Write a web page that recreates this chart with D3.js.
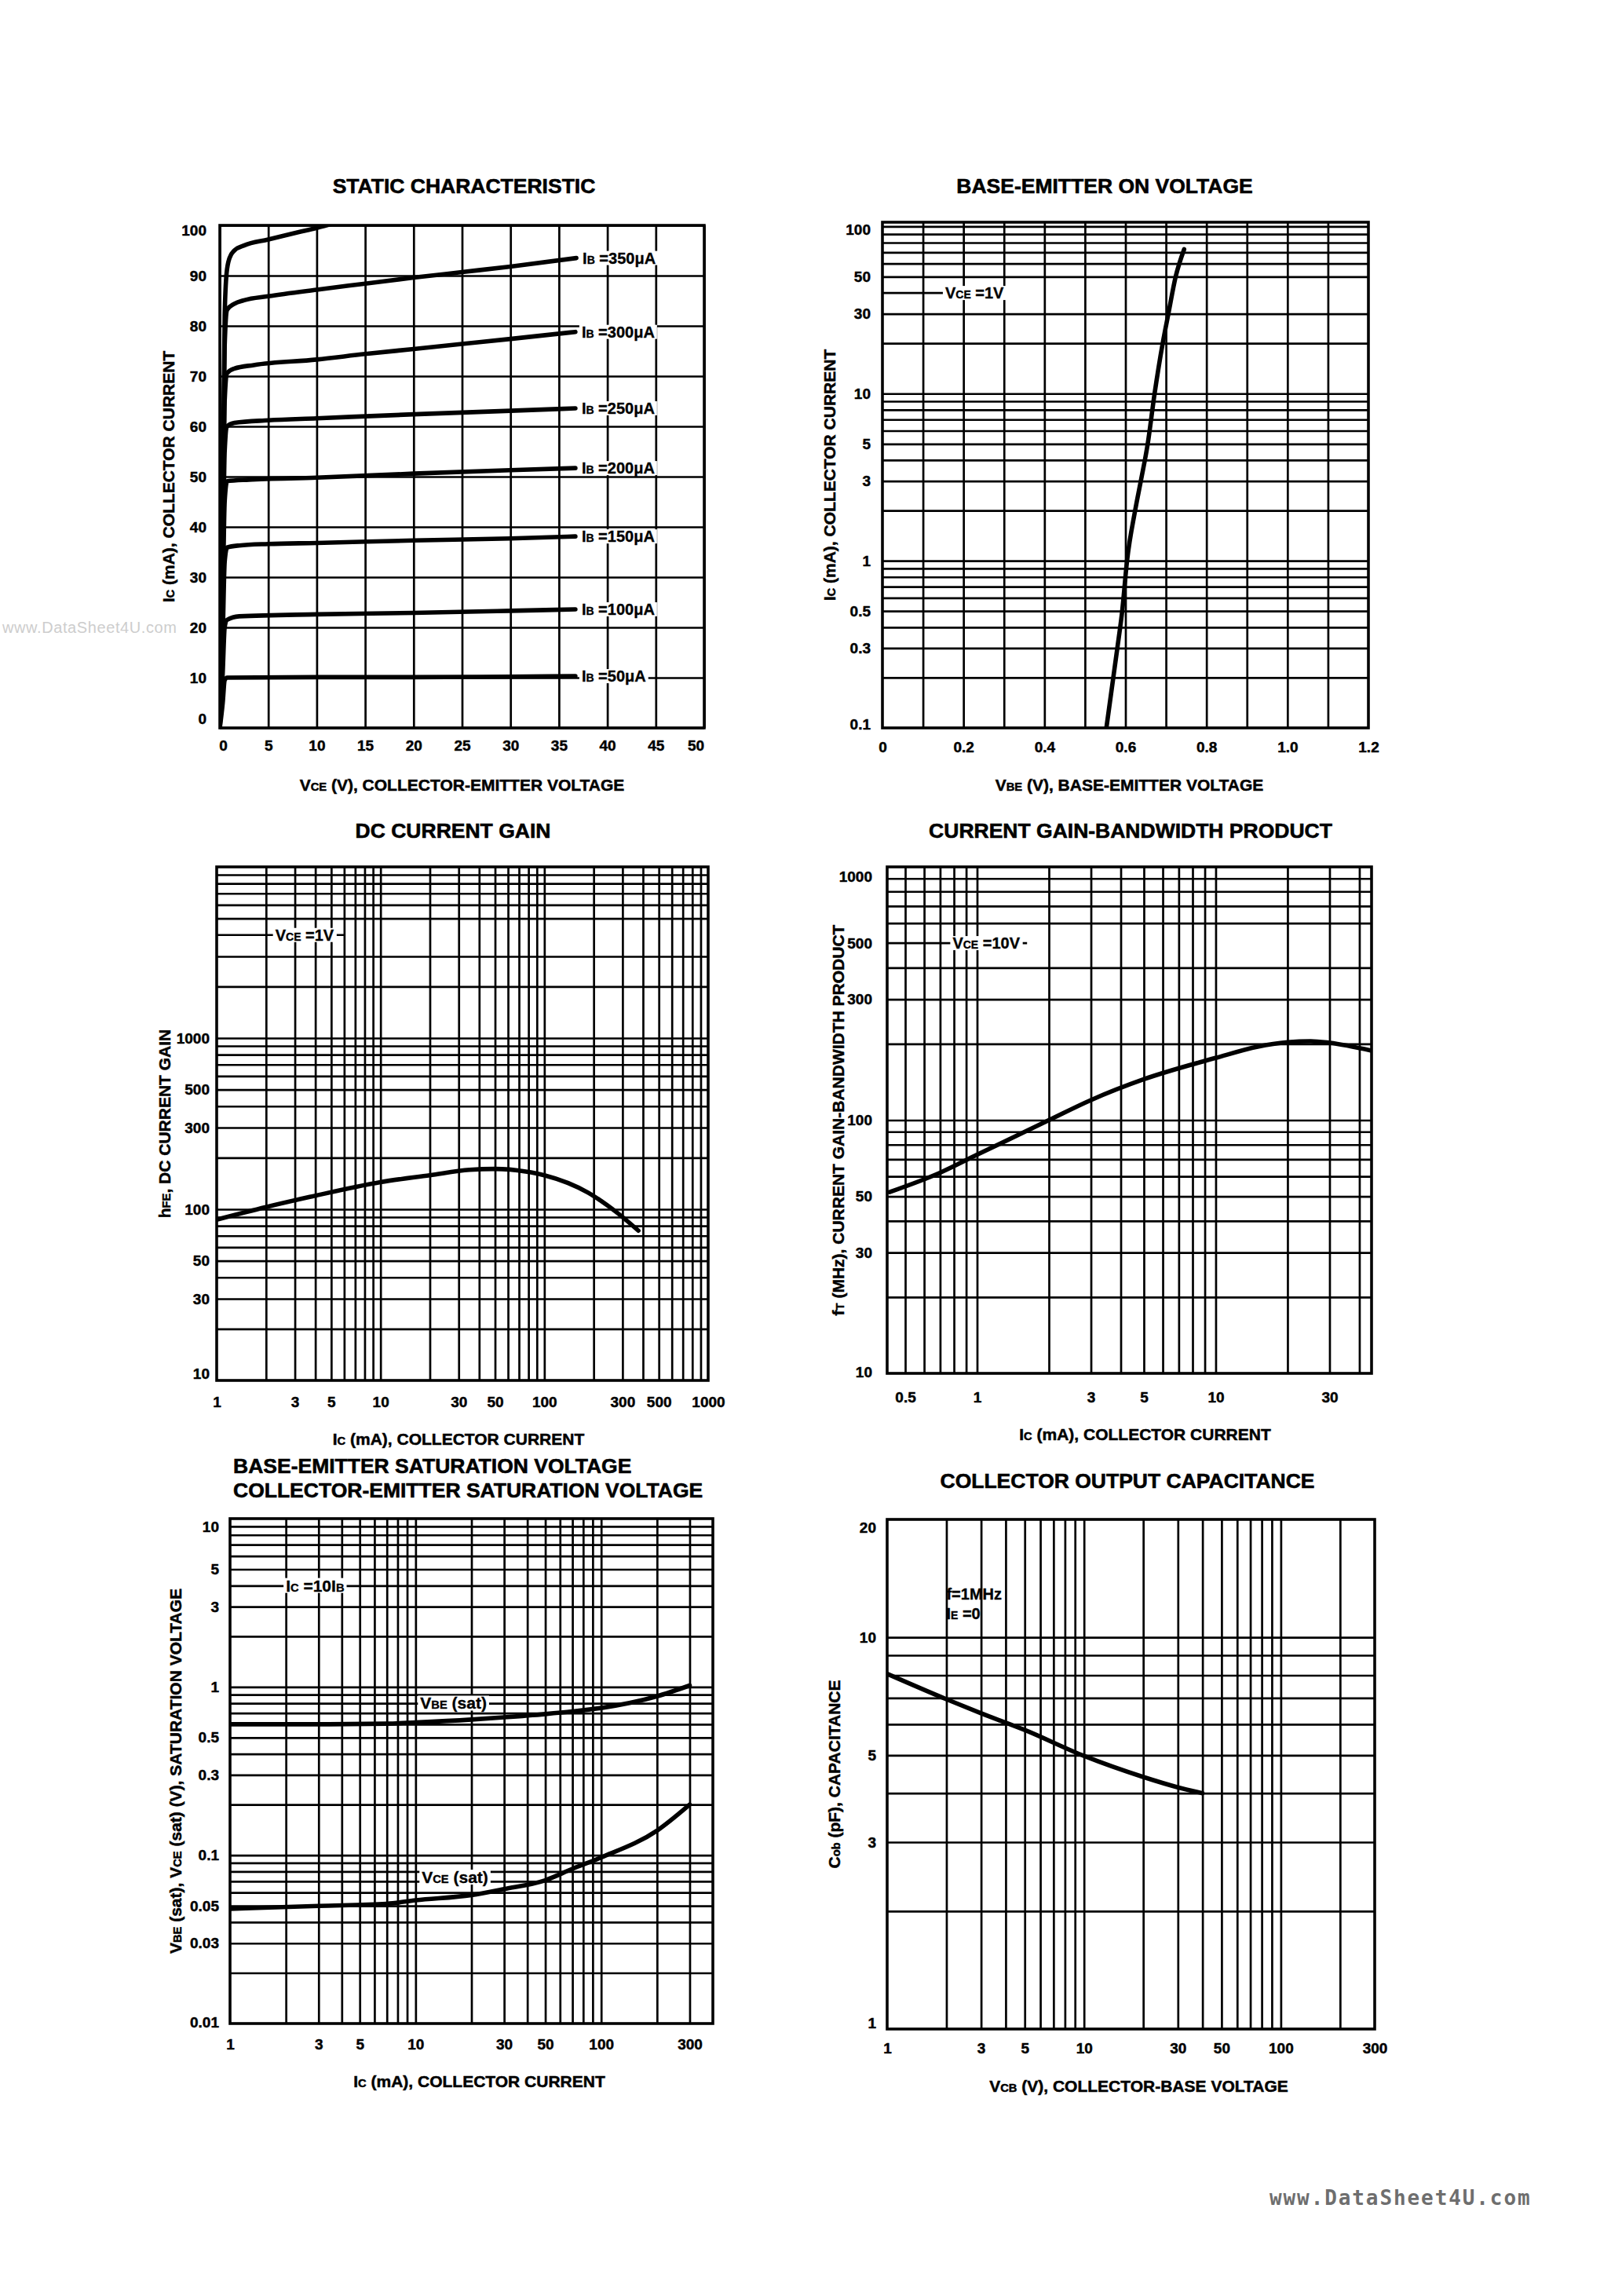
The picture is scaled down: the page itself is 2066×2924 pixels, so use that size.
<!DOCTYPE html>
<html><head><meta charset="utf-8">
<script src="https://cdn.jsdelivr.net/npm/d3@7"></script>
<style>
html,body{margin:0;padding:0;background:#fff;}
svg{display:block;}
</style></head><body>
<svg id="page" width="2066" height="2924"></svg>
<script>
// ================= DATA =================
// 1) Static characteristic
const staticVceTicks = [0,5,10,15,20,25,30,35,40,45,50];
const staticVceLabels = ["0","5","10","15","20","25","30","35","40","45","50"];
const staticIcTicks = [0,10,20,30,40,50,60,70,80,90,100];
const staticIcLabels = ["0","10","20","30","40","50","60","70","80","90","100"];
const staticIb400 = [[0,0],[0.3,45],[0.5,82],[0.7,90.5],[1,93.5],[1.5,95],[2.5,96],[5,97.2],[8,98.6],[10,99.5],[12,100.5]];
const staticIb350 = [[0,0],[0.3,42],[0.5,76],[0.75,83.2],[1.5,84.4],[2.5,85.1],[5,85.9],[10,87.2],[15,88.4],[20,89.6],[25,90.7],[30,91.8],[36.8,93.5]];
const staticIb300 = [[0,0],[0.3,36],[0.5,65],[0.75,70.6],[1.5,71.5],[3.5,72.2],[10,73.3],[15,74.4],[20,75.4],[25,76.4],[30,77.4],[36.7,78.8]];
const staticIb250 = [[0,0],[0.3,30],[0.5,55],[0.75,60],[1.5,60.7],[5,61.2],[10,61.6],[20,62.4],[30,63.1],[36.7,63.6]];
const staticIb200 = [[0,0],[0.3,25],[0.5,45],[0.75,49.1],[3,49.4],[10,49.8],[20,50.6],[30,51.3],[36.7,51.7]];
const staticIb150 = [[0,0],[0.3,18],[0.5,33],[0.75,35.9],[2,36.3],[5,36.6],[10,36.8],[20,37.3],[30,37.7],[36.7,38.1]];
const staticIb100 = [[0,0],[0.3,11],[0.5,20],[0.75,21.5],[2,22.2],[10,22.6],[20,22.9],[30,23.3],[36.7,23.6]];
const staticIb50  = [[0,0],[0.3,5],[0.5,9.5],[0.75,10],[10,10.1],[20,10.1],[30,10.2],[36.7,10.3]];
const staticIbLabels = ["350","300","250","200","150","100","50"];

// 2) Base-emitter on voltage
const beXTicks = [0,0.2,0.4,0.6,0.8,1.0,1.2];
const beXLabels = ["0","0.2","0.4","0.6","0.8","1.0","1.2"];
const beYTicks = [100,50,30,10,5,3,1,0.5,0.3,0.1];
const beYLabels = ["100","50","30","10","5","3","1","0.5","0.3","0.1"];
const beVbe = [0.553,0.580,0.592,0.604,0.624,0.638,0.655,0.672,0.692,0.706,0.724,0.745];
const beIc  = [0.1,0.3,0.5,1,2,3,5,10,20,30,50,73];

// 3) DC current gain
const gainXTicks = [1,3,5,10,30,50,100,300,500,1000];
const gainXLabels = ["1","3","5","10","30","50","100","300","500","1000"];
const gainYTicks = [1000,500,300,100,50,30,10];
const gainYLabels = ["1000","500","300","100","50","30","10"];
const gainIc  = [1,2,3.7,10,20,35,50,77,100,185,280,375];
const gainHfe = [87,103,118,144,158,170,172,166,158,125,95,75];

// 4) Current gain-bandwidth product
const ftXTicks = [0.5,1,3,5,10,30];
const ftXLabels = ["0.5","1","3","5","10","30"];
const ftYTicks = [1000,500,300,100,50,30,10];
const ftYLabels = ["1000","500","300","100","50","30","10"];
const ftIc  = [0.43,0.7,1,2,3,5,10,15,20,25,30,45];
const ftVal = [52,62,73,100,120,145,176,195,203,205,202,188];

// 5) Saturation voltages
const satXTicks = [1,3,5,10,30,50,100,300];
const satXLabels = ["1","3","5","10","30","50","100","300"];
const satYTicks = [10,5,3,1,0.5,0.3,0.1,0.05,0.03,0.01];
const satYLabels = ["10","5","3","1","0.5","0.3","0.1","0.05","0.03","0.01"];
const satIc  = [1,3,7,10,20,30,50,70,100,200,300];
const satVbe = [0.6,0.6,0.605,0.615,0.64,0.66,0.69,0.715,0.75,0.88,1.02];
const satVce = [0.048,0.05,0.0515,0.054,0.058,0.063,0.071,0.083,0.097,0.14,0.2];

// 6) Collector output capacitance
const capXTicks = [1,3,5,10,30,50,100,300];
const capXLabels = ["1","3","5","10","30","50","100","300"];
const capYTicks = [20,10,5,3,1];
const capYLabels = ["20","10","5","3","1"];
const capVcb = [1,2,3,5,10,20,30,40];
const capCob = [8.07,6.95,6.4,5.8,4.98,4.4,4.14,4.0];

// ================= DRAWING =================
const FONT = '"Liberation Sans", Arial, Helvetica, sans-serif';
const GRID_W = 2.7;
const svg = d3.select("#page");
svg.append("rect").attr("width",2066).attr("height",2924).attr("fill","#fff");
const defs = svg.append("defs");

// watermark left
svg.append("text").attr("x",3).attr("y",806).attr("font-family",FONT).attr("font-size",20)
  .attr("letter-spacing",0.6).attr("fill","#cdcdcd").text("www.DataSheet4U.com");

function logGrid(lo, hi, skip) {
  skip = skip || [];
  const out = [];
  for (let e = Math.floor(Math.log10(lo)); e <= Math.ceil(Math.log10(hi)); e++) {
    for (let m = 1; m < 10; m++) {
      const v = +(m * Math.pow(10, e)).toPrecision(4);
      if (v > lo * 1.0001 && v < hi * 0.9999 && !skip.includes(v)) out.push(v);
    }
  }
  return out;
}

function richText(sel, parts, size) {
  parts.forEach(p => sel.append("tspan").attr("font-size", p[1] ? size * 0.7 : size).text(p[0]));
  return sel;
}

function addLabel(g, px, py, parts, size, bg) {
  const t = g.append("text").attr("x", px).attr("y", py).attr("dy", "0.35em")
    .attr("font-family", FONT).attr("font-weight", 700).attr("font-size", size)
    .attr("fill", "#000").attr("stroke","#000").attr("stroke-width",0.35);
  richText(t, parts, size);
  if (bg) {
    const b = t.node().getBBox();
    g.insert("rect", () => t.node()).attr("x", b.x - 3).attr("y", b.y + 2)
      .attr("width", b.width + 6).attr("height", b.height - 4).attr("fill", "#fff");
  }
  return t;
}

function buildChart(c) {
  const g = svg.append("g");
  const x = c.x.range([c.L, c.R]);
  const y = c.y.range([c.B, c.T]);
  const W = c.R - c.L, H = c.B - c.T;
  const clipId = "clip" + c.id;
  defs.append("clipPath").attr("id", clipId).append("rect")
    .attr("x", c.L).attr("y", c.T).attr("width", W).attr("height", H);

  // grid through d3 axes
  const gx = g.append("g").attr("transform", `translate(0,${c.B})`)
    .call(d3.axisBottom(x).tickValues(c.xGrid).tickSize(-H).tickFormat(""));
  const gy = g.append("g").attr("transform", `translate(${c.L},0)`)
    .call(d3.axisLeft(y).tickValues(c.yGrid).tickSize(-W).tickFormat(""));
  [gx, gy].forEach(a => {
    a.select(".domain").remove();
    a.selectAll("line").attr("stroke", "#000").attr("stroke-width", GRID_W);
  });
  g.append("rect").attr("x", c.L).attr("y", c.T).attr("width", W).attr("height", H)
    .attr("fill", "none").attr("stroke", "#000").attr("stroke-width", 3.6);

  // tick labels
  const tx = g.append("g").attr("transform", `translate(0,${c.B})`)
    .call(d3.axisBottom(x).tickValues(c.xTicks).tickFormat((d, i) => c.xLabels[i]).tickSize(0).tickPadding(c.xPad));
  const ty = g.append("g").attr("transform", `translate(${c.L},0)`)
    .call(d3.axisLeft(y).tickValues(c.yTicks).tickFormat((d, i) => c.yLabels[i]).tickSize(0).tickPadding(c.yPad));
  [tx, ty].forEach(a => {
    a.select(".domain").remove();
    a.attr("font-family", FONT).attr("font-size", 19).attr("font-weight", 700);
    a.selectAll("text").attr("fill", "#000").attr("stroke","#000").attr("stroke-width",0.45);
  });
  ty.selectAll("text").attr("transform", d => {
    const py = y(d);
    if (c.B - py < 3) return `translate(0,${c.botShift})`;
    if (py - c.T < 12) return `translate(0,${c.topShift})`;
    return null;
  });
  if (c.xEdgeShift) {
    tx.selectAll("text").attr("transform", d => {
      const px = x(d);
      if (px - c.L < 3) return `translate(${c.xEdgeShift[0]},0)`;
      if (c.R - px < 3) return `translate(${c.xEdgeShift[1]},0)`;
      return null;
    });
  }

  // title
  c.title.forEach((t, i) => {
    g.append("text").attr("x", c.titleX).attr("y", c.titleY + i * 31)
      .attr("text-anchor", c.titleAnchor || "middle")
      .attr("font-family", FONT).attr("font-weight", 700).attr("font-size", 26.5)
      .attr("fill", "#000").attr("stroke","#000").attr("stroke-width",0.6).text(t);
  });
  // axis titles
  const xt = g.append("text").attr("x", (c.L + c.R) / 2 + (c.xTitleDx || 0)).attr("y", c.xTitleY)
    .attr("text-anchor", "middle").attr("font-family", FONT).attr("font-weight", 700)
    .attr("fill", "#000").attr("stroke","#000").attr("stroke-width",0.5).attr("font-size", 21);
  richText(xt, c.xTitle, 21);
  const yt = g.append("text")
    .attr("transform", `translate(${c.yTitleX},${(c.T + c.B) / 2 + (c.yTitleDy || 0)}) rotate(-90)`)
    .attr("dy", "0.35em").attr("text-anchor", "middle").attr("font-family", FONT).attr("font-weight", 700)
    .attr("fill", "#000").attr("stroke","#000").attr("stroke-width",0.5).attr("font-size", c.yTitleSize || 21);
  richText(yt, c.yTitle, c.yTitleSize || 21);

  const curves = g.append("g").attr("clip-path", `url(#${clipId})`);
  return { g, x, y, curves };
}

function drawCurve(ch, pts, curve) {
  ch.curves.append("path").datum(pts)
    .attr("d", d3.line().x(d => ch.x(d[0])).y(d => ch.y(d[1])).curve(curve || d3.curveMonotoneX))
    .attr("fill", "none").attr("stroke", "#000").attr("stroke-width", 5.6)
    .attr("stroke-linejoin", "round").attr("stroke-linecap", "round");
}
function leader(ch, x0, x1, yv) {
  ch.g.append("line").attr("x1", ch.x(x0)).attr("x2", ch.x(x1)).attr("y1", ch.y(yv)).attr("y2", ch.y(yv))
    .attr("stroke", "#000").attr("stroke-width", GRID_W);
}
const zip = (a, b) => a.map((v, i) => [v, b[i]]);

// ---------- Chart 1 ----------
const c1 = buildChart({
  id: 1, L: 280, R: 897, T: 287, B: 927,
  x: d3.scaleLinear().domain([0, 50]), y: d3.scaleLinear().domain([0, 100]),
  xGrid: staticVceTicks, yGrid: staticIcTicks,
  xTicks: staticVceTicks, xLabels: staticVceLabels, yTicks: staticIcTicks, yLabels: staticIcLabels,
  xPad: 15.5, yPad: 17, topShift: 6, botShift: -12, xEdgeShift: [4, -11],
  title: ["STATIC CHARACTERISTIC"], titleX: 591, titleY: 246,
  xTitle: [["V"], ["CE", 1], [" (V), COLLECTOR-EMITTER VOLTAGE"]], xTitleY: 1007,
  yTitle: [["I"], ["C", 1], [" (mA), COLLECTOR CURRENT"]], yTitleX: 215
});
const staticSeries = [staticIb350, staticIb300, staticIb250, staticIb200, staticIb150, staticIb100, staticIb50];
drawCurve(c1, staticIb400);
staticSeries.forEach(s => drawCurve(c1, s));
staticSeries.forEach((s, i) => {
  const end = s[s.length - 1];
  addLabel(c1.g, c1.x(end[0]) + 8, c1.y(end[1]), [["I"], ["B", 1], [" =" + staticIbLabels[i] + "μA"]], 20, true);
});

// ---------- Chart 2 ----------
const c2 = buildChart({
  id: 2, L: 1124, R: 1743, T: 283, B: 927,
  x: d3.scaleLinear().domain([0, 1.2]), y: d3.scaleLog().domain([0.1, 106]),
  xGrid: d3.range(1, 12).map(k => k / 10), yGrid: logGrid(0.1, 106, [40]),
  xTicks: beXTicks, xLabels: beXLabels, yTicks: beYTicks, yLabels: beYLabels,
  xPad: 17.5, yPad: 15, topShift: 4, botShift: -5,
  title: ["BASE-EMITTER ON VOLTAGE"], titleX: 1407, titleY: 246,
  xTitle: [["V"], ["BE", 1], [" (V), BASE-EMITTER VOLTAGE"]], xTitleY: 1007, xTitleDx: 5,
  yTitle: [["I"], ["C", 1], [" (mA), COLLECTOR CURRENT"]], yTitleX: 1057
});
drawCurve(c2, zip(beVbe, beIc));
leader(c2, 0, 0.305, 40);
addLabel(c2.g, c2.x(0.155), c2.y(40), [["V"], ["CE", 1], [" =1V"]], 20, true);

// ---------- Chart 3 ----------
const c3 = buildChart({
  id: 3, L: 276, R: 902, T: 1104, B: 1758,
  x: d3.scaleLog().domain([1, 1000]), y: d3.scaleLog().domain([10, 10000]),
  xGrid: logGrid(1, 1000), yGrid: logGrid(10, 10000, [4000]),
  xTicks: gainXTicks, xLabels: gainXLabels, yTicks: gainYTicks, yLabels: gainYLabels,
  xPad: 20.5, yPad: 9, topShift: 0, botShift: -9,
  title: ["DC CURRENT GAIN"], titleX: 577, titleY: 1067,
  xTitle: [["I"], ["C", 1], [" (mA), COLLECTOR CURRENT"]], xTitleY: 1840, xTitleDx: -5,
  yTitle: [["h"], ["FE", 1], [", DC CURRENT GAIN"]], yTitleX: 210
});
drawCurve(c3, zip(gainIc, gainHfe));
leader(c3, 1, 6.1, 4000);
addLabel(c3.g, c3.x(2.28), c3.y(4000), [["V"], ["CE", 1], [" =1V"]], 20, true);

// ---------- Chart 4 ----------
const c4 = buildChart({
  id: 4, L: 1130, R: 1747, T: 1104, B: 1749,
  x: d3.scaleLog().domain([0.42, 45]), y: d3.scaleLog().domain([10, 1000]),
  xGrid: logGrid(0.42, 45), yGrid: logGrid(10, 1000, [500]),
  xTicks: ftXTicks, xLabels: ftXLabels, yTicks: ftYTicks, yLabels: ftYLabels,
  xPad: 23.5, yPad: 19, topShift: 12, botShift: -2,
  title: ["CURRENT GAIN-BANDWIDTH PRODUCT"], titleX: 1440, titleY: 1067,
  xTitle: [["I"], ["C", 1], [" (mA), COLLECTOR CURRENT"]], xTitleY: 1834, xTitleDx: 20,
  yTitle: [["f"], ["T", 1], [" (MHz), CURRENT GAIN-BANDWIDTH PRODUCT"]], yTitleX: 1068
});
drawCurve(c4, zip(ftIc, ftVal));
leader(c4, 0.42, 1.62, 500);
addLabel(c4.g, c4.x(0.79), c4.y(500), [["V"], ["CE", 1], [" =10V"]], 20, true);

// ---------- Chart 5 ----------
const c5 = buildChart({
  id: 5, L: 293, R: 908, T: 1934, B: 2577,
  x: d3.scaleLog().domain([1, 400]), y: d3.scaleLog().domain([0.01, 10]),
  xGrid: logGrid(1, 400), yGrid: logGrid(0.01, 10),
  xTicks: satXTicks, xLabels: satXLabels, yTicks: satYTicks, yLabels: satYLabels,
  xPad: 19.5, yPad: 14, topShift: 10, botShift: -2,
  title: ["BASE-EMITTER SATURATION VOLTAGE", "COLLECTOR-EMITTER SATURATION VOLTAGE"],
  titleX: 297, titleY: 1876, titleAnchor: "start",
  xTitle: [["I"], ["C", 1], [" (mA), COLLECTOR CURRENT"]], xTitleY: 2658, xTitleDx: 10,
  yTitle: [["V"], ["BE", 1], [" (sat), V"], ["CE", 1], [" (sat) (V), SATURATION VOLTAGE"]], yTitleX: 224
});
drawCurve(c5, zip(satIc, satVbe));
drawCurve(c5, zip(satIc, satVce));
addLabel(c5.g, c5.x(2.0), c5.y(4), [["I"], ["C", 1], [" =10I"], ["B", 1]], 21, true);
addLabel(c5.g, c5.x(10.6), c5.y(0.8), [["V"], ["BE", 1], [" (sat)"]], 21, true);
addLabel(c5.g, c5.x(10.8), c5.y(0.074), [["V"], ["CE", 1], [" (sat)"]], 21, true);

// ---------- Chart 6 ----------
const c6 = buildChart({
  id: 6, L: 1130, R: 1751, T: 1935, B: 2584,
  x: d3.scaleLog().domain([1, 300]), y: d3.scaleLog().domain([1, 20]),
  xGrid: logGrid(1, 300), yGrid: logGrid(1, 20).filter(v => v <= 10),
  xTicks: capXTicks, xLabels: capXLabels, yTicks: capYTicks, yLabels: capYLabels,
  xPad: 17.5, yPad: 14, topShift: 10, botShift: -8,
  title: ["COLLECTOR OUTPUT CAPACITANCE"], titleX: 1436, titleY: 1895,
  xTitle: [["V"], ["CB", 1], [" (V), COLLECTOR-BASE VOLTAGE"]], xTitleY: 2664, xTitleDx: 10,
  yTitle: [["C"], ["ob", 1], [" (pF), CAPACITANCE"]], yTitleX: 1063
});
drawCurve(c6, zip(capVcb, capCob));
addLabel(c6.g, c6.x(2.0), c6.y(12.9), [["f=1MHz"]], 20, false);
addLabel(c6.g, c6.x(2.0), c6.y(11.5), [["I"], ["E", 1], [" =0"]], 20, false);

// footer
svg.append("text").attr("x", 1617).attr("y", 2808).attr("font-family", '"DejaVu Sans Mono", monospace')
  .attr("font-weight", 700).attr("font-size", 26).attr("letter-spacing", 1.9).attr("fill", "#6e6e6e")
  .text("www.DataSheet4U.com");
</script>
</body></html>
